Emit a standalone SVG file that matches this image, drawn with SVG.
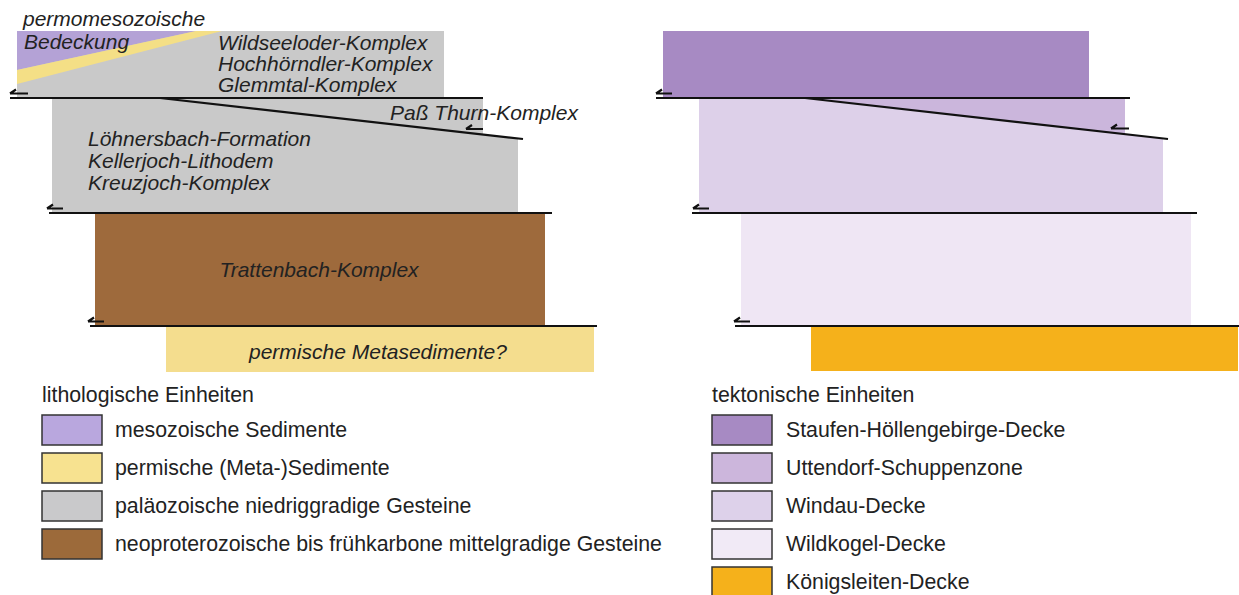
<svg xmlns="http://www.w3.org/2000/svg" width="1239" height="595" viewBox="0 0 1239 595">
<defs>
<style>
.t{font-family:"Liberation Sans",Arial,sans-serif;font-size:21px;fill:#222}
.i{font-style:italic}
.l{font-family:"Liberation Sans",Arial,sans-serif;font-size:21.3px;fill:#222}
.f{stroke:#111;stroke-width:2.2;fill:none}
.a{stroke:#111;stroke-width:2.2;fill:none}
.b{stroke:#333;stroke-width:1.5}
</style>
</defs>
<rect width="1239" height="595" fill="#fff"/>

<!-- Left panel -->
<g id="gray-top">
<rect x="17" y="31" width="427" height="67" fill="#c9c9c9"/>
<polygon points="17,31 196,31 17,70" fill="#b4a2d6"/>
<polygon points="196,31 222,31 17,84 17,70" fill="#f4df86"/>
<text class="t i" x="23" y="26">permomesozoische</text>
<text class="t i" x="24" y="49">Bedeckung</text>
<text class="t i" x="218" y="50">Wildseeloder-Komplex</text>
<text class="t i" x="218" y="71">Hochhörndler-Komplex</text>
<text class="t i" x="218" y="92">Glemmtal-Komplex</text>
</g>
<g id="gray-mid">
<polygon points="52,98 483,98 483,134.5 518,138.5 518,213 52,213" fill="#c9c9c9"/>
<text class="t i" x="390" y="120">Paß Thurn-Komplex</text>
<text class="t i" x="88" y="146">Löhnersbach-Formation</text>
<text class="t i" x="88" y="168">Kellerjoch-Lithodem</text>
<text class="t i" x="88" y="190">Kreuzjoch-Komplex</text>
</g>
<g id="brown">
<rect x="95" y="213" width="450" height="113" fill="#9e6a3c"/>
<text class="t i" x="319" y="277" text-anchor="middle">Trattenbach-Komplex</text>
</g>
<g id="perm">
<rect x="166" y="327" width="428" height="45" fill="#f4dd8e"/>
<text class="t i" x="249" y="359">permische Metasedimente?</text>
</g>

<!-- Right panel -->
<g id="windau">
<polygon points="699,98 805,98 1163,138.7 1163,213 699,213" fill="#ddd0e9"/>
</g>
<g id="uttendorf">
<polygon points="805,98 1125,98 1125,134.4" fill="#cbb6dc"/>
</g>
<g id="staufen">
<rect x="663" y="31" width="426" height="66" fill="#a78ac3"/>
</g>
<g id="wildkogel">
<rect x="741" y="213" width="450" height="113" fill="#efe6f4"/>
</g>
<g id="koenigsleiten">
<rect x="811" y="327" width="427" height="44" fill="#f5b11b"/>
</g>

<g id="connectors">
<line class="f" x1="10" y1="98" x2="483" y2="98"/>
<line class="f" x1="160" y1="98" x2="523" y2="139"/>
<line class="f" x1="49" y1="213" x2="552" y2="213"/>
<line class="f" x1="90" y1="326" x2="597" y2="326"/>
<path class="a" d="M10,93.5 h18 M10,93.5 l6,-4"/>
<path class="a" d="M47,208.5 h16 M47,208.5 l6,-4"/>
<path class="a" d="M88,321.5 h16 M88,321.5 l6,-4"/>
<path class="a" d="M466,129 h17 M466,129 l6,-4"/>

<line class="f" x1="656" y1="98" x2="1130" y2="98"/>
<line class="f" x1="805" y1="98" x2="1168" y2="139"/>
<line class="f" x1="692" y1="213" x2="1197" y2="213"/>
<line class="f" x1="735" y1="326" x2="1239" y2="326"/>
<path class="a" d="M656,93.5 h16 M656,93.5 l6,-4"/>
<path class="a" d="M693,208.5 h16 M693,208.5 l6,-4"/>
<path class="a" d="M734,321.5 h16 M734,321.5 l6,-4"/>
<path class="a" d="M1111,128.5 h18 M1111,128.5 l6,-4"/>
</g>

<!-- Legends -->
<g id="legend-litho">
<text class="l" x="42" y="402">lithologische Einheiten</text>
<rect class="b" x="42" y="415" width="60" height="30" fill="#b9a7de"/>
<text class="l" x="115" y="437">mesozoische Sedimente</text>
<rect class="b" x="42" y="453" width="60" height="30" fill="#f7e290"/>
<text class="l" x="115" y="475">permische (Meta-)Sedimente</text>
<rect class="b" x="42" y="491" width="60" height="30" fill="#c9c9cb"/>
<text class="l" x="115" y="513">paläozoische niedriggradige Gesteine</text>
<rect class="b" x="42" y="529" width="60" height="30" fill="#9c6a3a"/>
<text class="l" x="115" y="551">neoproterozoische bis frühkarbone mittelgradige Gesteine</text>
</g>
<g id="legend-tekto">
<text class="l" x="712" y="402">tektonische Einheiten</text>
<rect class="b" x="712" y="415" width="60" height="30" fill="#a78ac3"/>
<text class="l" x="786" y="437">Staufen-Höllengebirge-Decke</text>
<rect class="b" x="712" y="453" width="60" height="30" fill="#ccb6dc"/>
<text class="l" x="786" y="475">Uttendorf-Schuppenzone</text>
<rect class="b" x="712" y="491" width="60" height="30" fill="#ddd1ea"/>
<text class="l" x="786" y="513">Windau-Decke</text>
<rect class="b" x="712" y="529" width="60" height="30" fill="#f1eaf6"/>
<text class="l" x="786" y="551">Wildkogel-Decke</text>
<rect class="b" x="712" y="567" width="60" height="30" fill="#f5b11b"/>
<text class="l" x="786" y="589">Königsleiten-Decke</text>
</g>
</svg>
